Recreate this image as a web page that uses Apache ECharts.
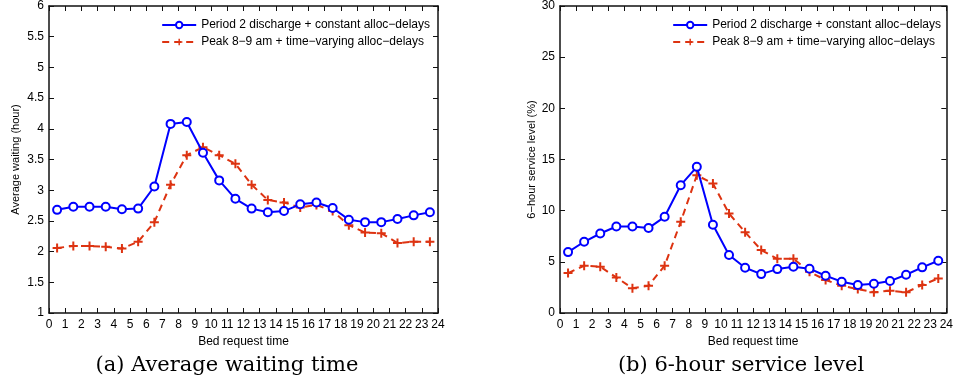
<!DOCTYPE html>
<html><head><meta charset="utf-8">
<script src="https://cdn.jsdelivr.net/npm/echarts@6/dist/echarts.min.js"></script>
<style>html,body{margin:0;padding:0;background:#fff}#c{width:956px;height:385px}</style>
</head><body><div id="c"></div>
<script>
const hours = [0.5,1.5,2.5,3.5,4.5,5.5,6.5,7.5,8.5,9.5,10.5,11.5,12.5,13.5,14.5,15.5,16.5,17.5,18.5,19.5,20.5,21.5,22.5,23.5];
const xTicks = [0,1,2,3,4,5,6,7,8,9,10,11,12,13,14,15,16,17,18,19,20,21,22,23,24];
const nameA = 'Period 2 discharge + constant alloc\u2212delays';
const nameB = 'Peak 8\u22129 am + time\u2212varying alloc\u2212delays';
const waitA = [2.68,2.73,2.73,2.73,2.69,2.70,3.06,4.08,4.11,3.61,3.16,2.86,2.70,2.64,2.66,2.77,2.80,2.71,2.52,2.48,2.48,2.53,2.59,2.64];
const waitB = [2.06,2.09,2.09,2.08,2.05,2.16,2.48,3.09,3.57,3.70,3.57,3.43,3.09,2.84,2.80,2.72,2.76,2.66,2.43,2.31,2.30,2.14,2.16,2.16];
const svcA = [5.95,6.96,7.77,8.45,8.45,8.30,9.40,12.49,14.28,8.62,5.66,4.42,3.80,4.29,4.52,4.33,3.64,3.06,2.73,2.86,3.12,3.74,4.46,5.11];
const svcB = [3.90,4.62,4.52,3.48,2.41,2.67,4.62,8.91,13.46,12.65,9.72,7.90,6.15,5.30,5.30,4.03,3.22,2.67,2.34,2.02,2.18,2.02,2.73,3.38];
const captions = ['(a) Average waiting time','(b) 6-hour service level'];
const yNames = ['Average waiting (hour)','6\u2212hour service level (%)'];

const blue = '#0000ff', red = '#dd3311';
const plus = 'path://M-1,-4.5H1V-1H4.5V1H1V4.5H-1V1H-4.5V-1H-1Z';
const tickFont = {fontFamily:'Liberation Sans, Arial, sans-serif', fontSize:12, color:'#000'};
const grids = [
  {left:49, right:518, top:6, bottom:72},
  {left:560, right:8, top:6, bottom:72}
];
const xAxis = [], yAxis = [];
for (let g=0; g<2; g++){
  const line = {show:true, onZero:false, lineStyle:{color:'#111', width:1.5}};
  const tick = {inside:true, length:5, lineStyle:{color:'#111', width:1}};
  xAxis.push({type:'value', gridIndex:g, min:0, max:24, interval:1, position:'bottom',
    axisLine:line, axisTick:tick,
    axisLabel:Object.assign({margin:6, formatter:v=>xTicks.includes(v)?String(v):''}, tickFont),
    splitLine:{show:false},
    name:'Bed request time', nameLocation:'middle', nameGap:20,
    nameTextStyle:{fontFamily:'Liberation Sans Narrow, Arial Narrow, sans-serif', fontSize:12, color:'#000'}});
  xAxis.push({type:'value', gridIndex:g, min:0, max:24, interval:1, position:'top',
    axisLine:line, axisTick:tick, axisLabel:{show:false}, splitLine:{show:false}});
  const ymin = g===0?1:0, ymax = g===0?6:30, yint = g===0?0.5:5;
  yAxis.push({type:'value', gridIndex:g, min:ymin, max:ymax, interval:yint, position:'left',
    axisLine:line, axisTick:tick,
    axisLabel:Object.assign({margin:5}, tickFont), splitLine:{show:false},
    name:yNames[g], nameLocation:'middle', nameGap:g===0?28:22,
    nameTextStyle:{fontFamily:'Liberation Sans, Arial, sans-serif', fontSize:11, color:'#000'}});
  yAxis.push({type:'value', gridIndex:g, min:ymin, max:ymax, interval:yint, position:'right',
    axisLine:line, axisTick:tick, axisLabel:{show:false}, splitLine:{show:false}});
}
const pair = arr => hours.map((h,i)=>[h,arr[i]]);
function sA(data, g){ return {name:nameA, type:'line', xAxisIndex:g*2, yAxisIndex:g*2, data:pair(data),
  symbol:'emptyCircle', symbolSize:8, showAllSymbol:true,
  lineStyle:{color:blue, width:2}, itemStyle:{color:blue, borderColor:blue, borderWidth:2}, z:3, animation:false}; }
function sB(data, g){ return {name:nameB, type:'line', xAxisIndex:g*2, yAxisIndex:g*2, data:pair(data),
  symbol:plus, symbolSize:9, showAllSymbol:true,
  lineStyle:{color:red, width:2, type:[7,5]}, itemStyle:{color:red}, z:2, animation:false}; }

const legendText = {fontFamily:'Liberation Sans, Arial, sans-serif', fontSize:12, color:'#000'};
const legends = [
  {right:524, top:17},
  {right:13, top:17}
].map(p=>Object.assign({orient:'vertical', itemWidth:34, itemHeight:8, itemGap:5,
  data:[nameA,nameB], textStyle:legendText, selectedMode:false, padding:[2,2,2,2], backgroundColor:'#fff'}, p));

const capStyle = {fontFamily:'DejaVu Serif, Liberation Serif, serif', fontSize:21, fontWeight:'normal', color:'#000'};
const option = {
  animation:false,
  grid:grids, xAxis, yAxis,
  legend:legends,
  title:[
    {text:captions[0], left:227, top:355, textAlign:'center', padding:0, textStyle:capStyle},
    {text:captions[1], left:741, top:355, textAlign:'center', padding:0, textStyle:capStyle}
  ],
  series:[sA(waitA,0), sB(waitB,0), sA(svcA,1), sB(svcB,1)]
};
const chart = echarts.init(document.getElementById('c'), null, {renderer:'canvas'});
chart.setOption(option);
</script></body></html>
